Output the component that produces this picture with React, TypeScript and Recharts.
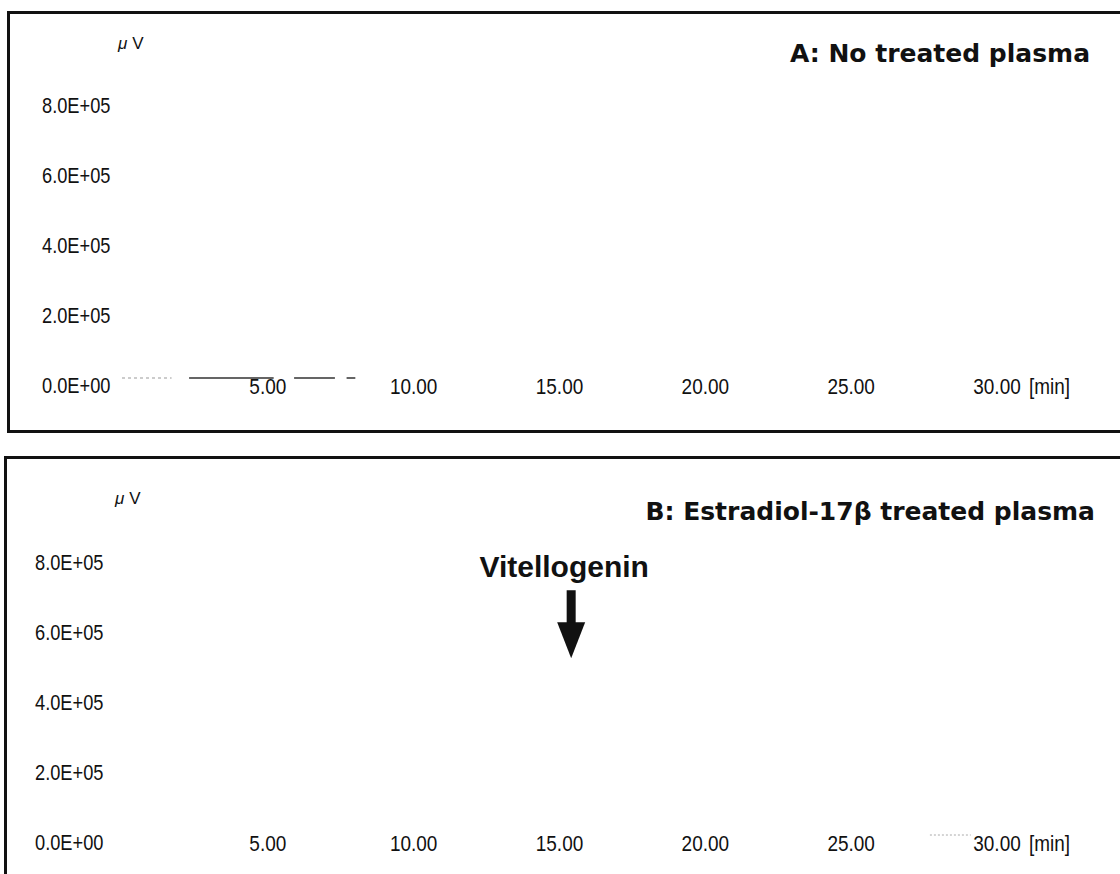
import { LineChart, Line, XAxis, YAxis, ReferenceDot, Customized } from "recharts";

const timeTicks = [5, 10, 15, 20, 25, 30];
const timeTickLabels = ["5.00", "10.00", "15.00", "20.00", "25.00", "30.00"];
const signalTicks = [0, 200000, 400000, 600000, 800000];
const signalTickLabels = ["0.0E+00", "2.0E+05", "4.0E+05", "6.0E+05", "8.0E+05"];

// panel A: only broken baseline fragments near 0 are visible
const traceAFaintTime = [0, 1.7];
const traceAFaintSignal = [0, 0];
const traceATime = [2.3, 5.2, 5.5, 5.9, 7.3, 7.5, 7.7, 8.0];
const traceASignal = [0, 0, null, 0, 0, null, 0, 0];

// panel B: faint baseline bit near the end
const traceBTime = [27.7, 29.1];
const traceBSignal = [0, 0];

// vitellogenin arrow tip (min, µV)
const markerTime = [15.4];
const markerSignal = [505000];

const W = 1120;
const H = 436;
const margin = { top: 28, right: 123, bottom: 28, left: 0 };
const xAxisHeight = 30;
const plotBottom = H - margin.bottom - xAxisHeight;

const labelFont = "'Liberation Sans', Arial, sans-serif";
const titleFont = "'DejaVu Sans', 'Liberation Sans', sans-serif";
const ink = "#111";

const toRows = (ts: number[], vs: (number | null)[]) => ts.map((t, i) => ({ t, v: vs[i] }));

// the instrument font is narrow, so squeeze Liberation Sans to the measured widths
function NarrowText({ x, y, anchor, width, children }: any) {
  const s = String(children);
  const len = width ?? s.length * 10.5 - (s.includes(".") ? 5 : 0);
  return (
    <text
      x={x}
      y={y}
      fontFamily={labelFont}
      fontSize={22}
      fill={ink}
      textAnchor={anchor}
      textLength={len}
      lengthAdjust="spacingAndGlyphs"
    >
      {s}
    </text>
  );
}

function YTick(props: any, labelX: number) {
  const { y, payload } = props;
  const label = signalTickLabels[signalTicks.indexOf(payload.value)];
  return (
    <NarrowText x={labelX} y={y + 15} anchor="start">
      {label}
    </NarrowText>
  );
}

function XTick(props: any) {
  const { x, payload } = props;
  const i = timeTicks.indexOf(payload.value);
  return (
    <g>
      <NarrowText x={x} y={plotBottom + 16} anchor="middle">
        {timeTickLabels[i]}
      </NarrowText>
      {i === timeTicks.length - 1 && (
        <NarrowText x={x + 32} y={plotBottom + 16} anchor="start" width={41}>
          [min]
        </NarrowText>
      )}
    </g>
  );
}

function Arrow(props: any) {
  const { cx, cy } = props;
  return (
    <g>
      <text x={cx - 7} y={cy - 81} fontFamily={labelFont} fontWeight="bold" fontSize={30} fill={ink} textAnchor="middle">
        Vitellogenin
      </text>
      <rect x={cx - 4.5} y={cy - 68} width={9} height={34} fill={ink} />
      <polygon points={`${cx - 14},${cy - 36} ${cx + 14},${cy - 36} ${cx},${cy}`} fill={ink} />
    </g>
  );
}

type PanelProps = {
  title: string;
  titleRight: number;
  titleBaseline: number;
  unitX: number;
  unitY: number;
  labelX: number;
  children: any;
};

function Panel({ title, titleRight, titleBaseline, unitX, unitY, labelX, children }: PanelProps) {
  return (
    <LineChart width={W} height={H} margin={margin}>
      <XAxis
        type="number"
        dataKey="t"
        domain={[0, 30]}
        ticks={timeTicks}
        axisLine={false}
        tickLine={false}
        height={xAxisHeight}
        tick={XTick}
        interval={0}
      />
      <YAxis
        type="number"
        domain={[0, 1000000]}
        ticks={signalTicks}
        axisLine={false}
        tickLine={false}
        width={122}
        tick={(p: any) => YTick(p, labelX)}
        interval={0}
      />
      <Customized
        component={() => (
          <g>
            <text x={unitX} y={unitY} fontFamily={labelFont} fontSize={17} fill={ink}>
              <tspan fontStyle="italic">μ</tspan>
              <tspan dx={5}>V</tspan>
            </text>
            <text
              x={titleRight}
              y={titleBaseline}
              fontFamily={titleFont}
              fontWeight="bold"
              fontSize={25}
              fill={ink}
              textAnchor="end"
            >
              {title}
            </text>
          </g>
        )}
      />
      {children}
    </LineChart>
  );
}

export default function App() {
  return (
    <div
      style={{
        position: "absolute",
        left: 0,
        top: 0,
        width: 1120,
        height: 874,
        overflow: "hidden",
        background: "#fff",
      }}
    >
      <div
        style={{
          position: "absolute",
          left: 7,
          top: 11,
          width: 1200,
          height: 422,
          border: `3px solid ${ink}`,
          boxSizing: "border-box",
        }}
      />
      <div
        style={{
          position: "absolute",
          left: 4,
          top: 456,
          width: 1200,
          height: 500,
          border: `3px solid ${ink}`,
          boxSizing: "border-box",
        }}
      />
      <div style={{ position: "absolute", left: 0, top: 0 }}>
        <Panel title="A: No treated plasma" titleRight={1090} titleBaseline={62} unitX={118} unitY={49} labelX={42}>
          <Line
            data={toRows(traceAFaintTime, traceAFaintSignal)}
            dataKey="v"
            stroke="#999"
            strokeWidth={1.2}
            strokeDasharray="3 3"
            dot={false}
            isAnimationActive={false}
          />
          <Line
            data={toRows(traceATime, traceASignal)}
            dataKey="v"
            stroke="#333"
            strokeWidth={1.6}
            dot={false}
            connectNulls={false}
            isAnimationActive={false}
          />
        </Panel>
      </div>
      <div style={{ position: "absolute", left: 0, top: 457 }}>
        <Panel
          title="B: Estradiol-17β treated plasma"
          titleRight={1095}
          titleBaseline={63}
          unitX={115}
          unitY={47}
          labelX={35}
        >
          <Line
            data={toRows(traceBTime, traceBSignal)}
            dataKey="v"
            stroke="#aaa"
            strokeWidth={1}
            strokeDasharray="2 2"
            dot={false}
            isAnimationActive={false}
          />
          <ReferenceDot x={markerTime[0]} y={markerSignal[0]} shape={Arrow} ifOverflow="visible" />
        </Panel>
      </div>
    </div>
  );
}
